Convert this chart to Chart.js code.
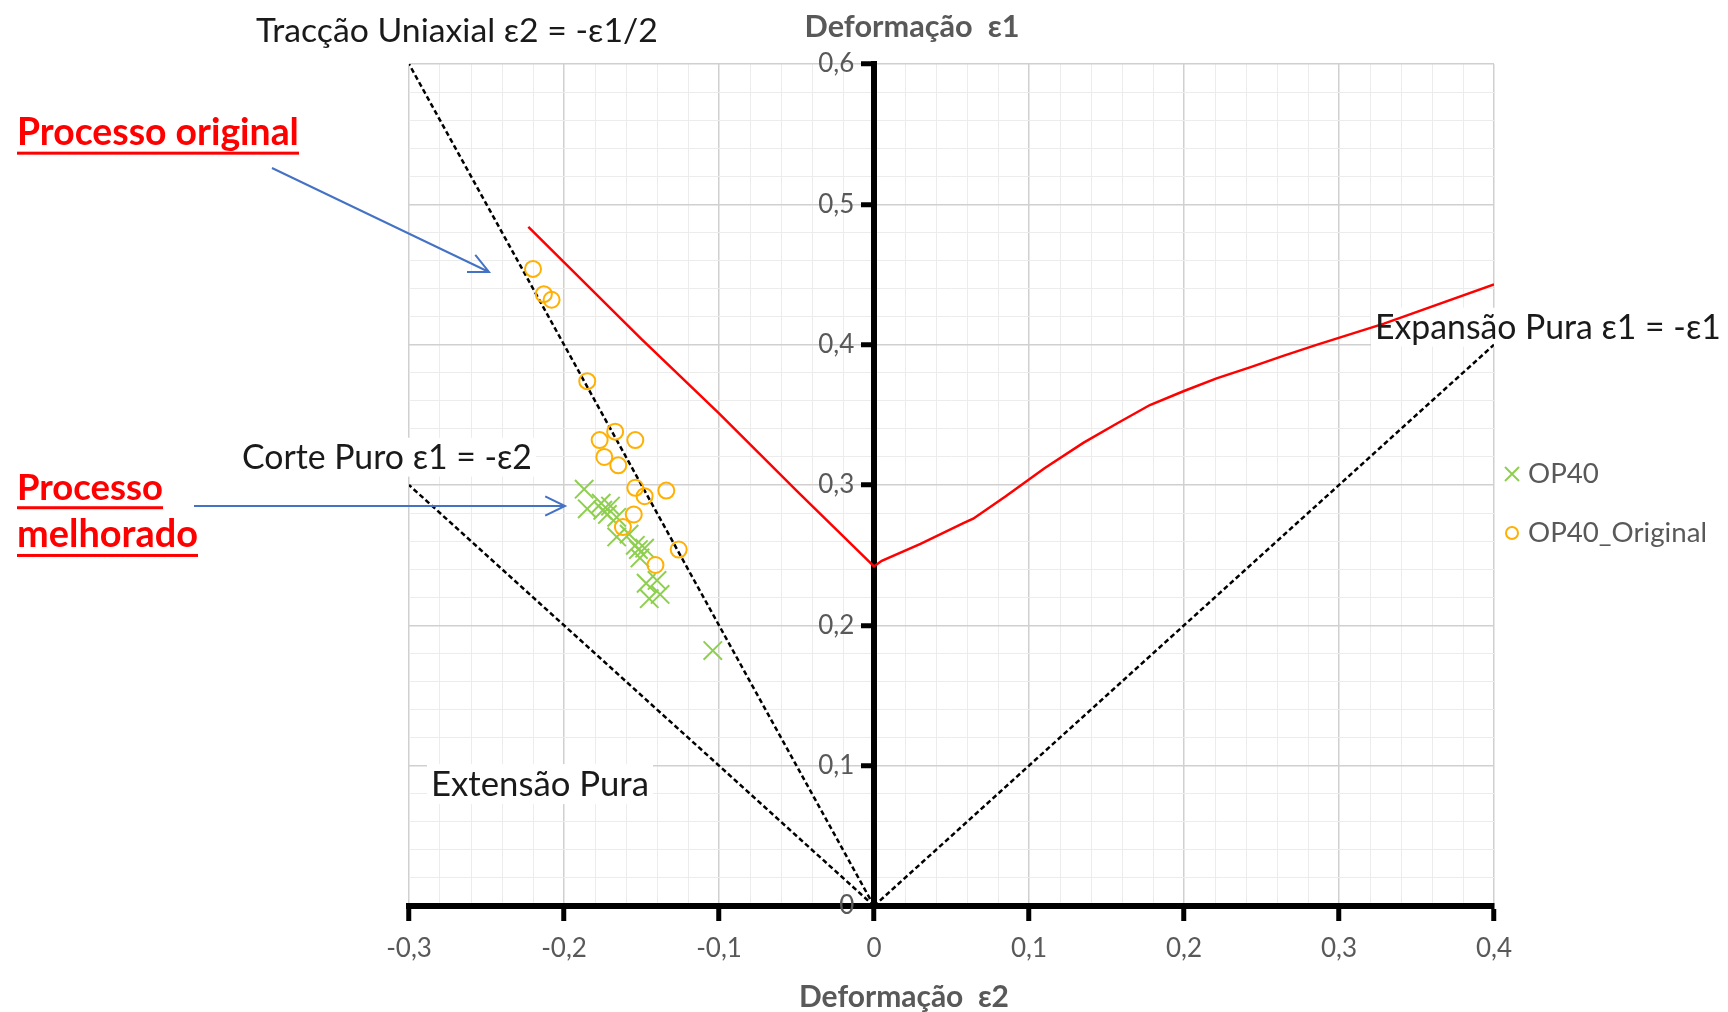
<!DOCTYPE html>
<html>
<head>
<meta charset="utf-8">
<script src="https://cdn.jsdelivr.net/npm/chart.js@4.4.1/dist/chart.umd.min.js"></script>
<style>
    html, body { margin: 0; padding: 0; background: #fff; }
</style>
</head>
<body>
<canvas id="flc_chart" width="1728" height="1012"></canvas>
<script>
//Dados

//OP40 (processo melhorado)
var op40_e2 = [-0.187, -0.185, -0.176, -0.175, -0.170, -0.172, -0.166, -0.158, -0.166, -0.154, -0.152, -0.148, -0.151, -0.147, -0.140, -0.145, -0.138, -0.104];
var op40_e1 = [0.297, 0.283, 0.287, 0.282, 0.285, 0.279, 0.277, 0.265, 0.263, 0.257, 0.254, 0.255, 0.248, 0.230, 0.232, 0.219, 0.222, 0.182];

//OP40_Original
var orig_e2 = [-0.220, -0.213, -0.208, -0.185, -0.167, -0.177, -0.154, -0.174, -0.165, -0.154, -0.148, -0.134, -0.155, -0.162, -0.126, -0.141];
var orig_e1 = [0.454, 0.436, 0.432, 0.374, 0.338, 0.332, 0.332, 0.320, 0.314, 0.298, 0.292, 0.296, 0.279, 0.270, 0.254, 0.243];

//Curva limite de conformação (vermelha)
var clc_e2 = [-0.223, -0.15, -0.1, -0.05, 0, 0.005, 0.03, 0.058, 0.064, 0.085, 0.11, 0.135, 0.157, 0.178, 0.2, 0.221, 0.243, 0.264, 0.286, 0.329, 0.4];
var clc_e1 = [0.484, 0.404, 0.351, 0.296, 0.242, 0.246, 0.258, 0.273, 0.276, 0.292, 0.312, 0.330, 0.344, 0.357, 0.367, 0.376, 0.384, 0.392, 0.400, 0.415, 0.443];

//Trajectórias de referência
var uniax_e2 = [0, -0.3];
var uniax_e1 = [0, 0.6];
var corte_e2 = [0, -0.3];
var corte_e1 = [0, 0.3];
var expan_e2 = [0, 0.4];
var expan_e1 = [0, 0.4];

//Eixos
var x_min = -0.3, x_max = 0.4;
var y_min = 0, y_max = 0.6;
var minor_step = 0.02;

var green = '#8fcf4f';
var orange = '#ffb000';
var fnt = 'Lato, "Open Sans", sans-serif';

function pts(xs, ys) {
    var out = [];
    for (var i = 0; i < xs.length; i++) out.push({x: xs[i], y: ys[i]});
    return out;
}

function is_major(v) {
    return Math.abs(v * 10 - Math.round(v * 10)) < 1e-6;
}

function fmt(v) {
    if (!is_major(v)) return '';
    return String(Math.round(v * 10) / 10).replace('.', ',');
}

//no eixo central o Chart.js cola o texto ao eixo, afasta com espaços
function fmt_y(v) {
    var s = fmt(v);
    return s === '' ? '' : s + '\u2002 ';
}

function grid_color(c) {
    var v = c.tick.value;
    if (Math.abs(v) < 1e-9) return 'rgba(0,0,0,0)';
    return is_major(v) ? '#d0d0d0' : '#ececec';
}

function tick_color(c) {
    return is_major(c.tick.value) ? '#000' : 'rgba(0,0,0,0)';
}

/* --------------------- Textos e anotações --------------------- */

var notas = [
    {txt: 'Tracção Uniaxial ε2 = -ε1/2', x: 256, y: 31, w: 402},
    {txt: 'Corte Puro ε1 = -ε2', x: 242, y: 458, w: 290},
    {txt: 'Extensão Pura', x: 431, y: 785, w: 218},
    {txt: 'Expansão Pura ε1 = -ε1', x: 1375, y: 328, w: 346}
];

var processos = [
    {txt: 'Processo original', x: 17, y: 133, w: 282},
    {txt: 'Processo', x: 17, y: 488, w: 146},
    {txt: 'melhorado', x: 17, y: 535, w: 181}
];

function fit_size(c, txt, weight, w) {
    c.font = weight + ' 40px ' + fnt;
    return 40 * w / c.measureText(txt).width;
}

function arrow(c, x1, y1, x2, y2) {
    var a = Math.atan2(y2 - y1, x2 - x1);
    var h = 22;
    c.save();
    c.strokeStyle = '#4472c4';
    c.lineWidth = 2;
    c.beginPath();
    c.moveTo(x1, y1);
    c.lineTo(x2, y2);
    c.moveTo(x2 - h * Math.cos(a - 0.45), y2 - h * Math.sin(a - 0.45));
    c.lineTo(x2, y2);
    c.lineTo(x2 - h * Math.cos(a + 0.45), y2 - h * Math.sin(a + 0.45));
    c.stroke();
    c.restore();
}

var textos = {
    id: 'textos',
    beforeDatasetsDraw: function (chart) {
        var c = chart.ctx;
        c.save();
        c.fillStyle = '#fff';
        notas.forEach(function (n) {
            var s = fit_size(c, n.txt, 'normal', n.w);
            c.fillRect(n.x - 4, n.y - s * 0.6, n.w + 8, s * 1.15);
        });
        c.restore();
    },
    afterDraw: function (chart) {
        var c = chart.ctx;
        var xs = chart.scales.x;
        var ys = chart.scales.y;
        c.save();
        c.textBaseline = 'middle';
        c.textAlign = 'left';

        notas.forEach(function (n) {
            var s = fit_size(c, n.txt, 'normal', n.w);
            c.font = 'normal ' + s + 'px ' + fnt;
            c.fillStyle = '#1a1a1a';
            c.fillText(n.txt, n.x, n.y);
        });

        processos.forEach(function (p) {
            var s = fit_size(c, p.txt, 'bold', p.w);
            c.font = 'bold ' + s + 'px ' + fnt;
            c.fillStyle = '#ff0000';
            c.fillText(p.txt, p.x, p.y);
            c.fillRect(p.x, p.y + s * 0.5, p.w, 3);
        });

        arrow(c, 272, 168, 489, 272);
        arrow(c, 194, 506, 565, 506);

        //Títulos dos eixos
        c.fillStyle = '#595959';
        c.textAlign = 'center';
        var t1 = 'Deformação  ε1';
        c.font = 'bold ' + fit_size(c, t1, 'bold', 215) + 'px ' + fnt;
        c.fillText(t1, xs.getPixelForValue(0) + 38, 27);
        var t2 = 'Deformação  ε2';
        c.font = 'bold ' + fit_size(c, t2, 'bold', 210) + 'px ' + fnt;
        c.fillText(t2, xs.getPixelForValue(0) + 30, 997);

        //Legenda
        var lx = xs.right + 18;
        var ly1 = ys.getPixelForValue(0.3) - 11;
        var ly2 = ly1 + 59;
        c.strokeStyle = green;
        c.lineWidth = 2;
        c.beginPath();
        c.moveTo(lx - 7, ly1 - 7); c.lineTo(lx + 7, ly1 + 7);
        c.moveTo(lx + 7, ly1 - 7); c.lineTo(lx - 7, ly1 + 7);
        c.stroke();
        c.strokeStyle = orange;
        c.beginPath();
        c.arc(lx, ly2, 6, 0, Math.PI * 2);
        c.stroke();
        c.textAlign = 'left';
        c.fillStyle = '#595959';
        c.font = 'normal ' + fit_size(c, 'OP40_Original', 'normal', 179) + 'px ' + fnt;
        c.fillText('OP40', lx + 16, ly1);
        c.fillText('OP40_Original', lx + 16, ly2);
        c.restore();
    }
};

/* --------------------- Gráfico --------------------- */

var ctx = document.getElementById('flc_chart').getContext('2d');
var chart = new Chart(ctx, {
    type: 'scatter',
    data: {
        datasets: [{
            label: 'OP40_Original',
            data: pts(orig_e2, orig_e1),
            pointStyle: 'circle',
            pointRadius: 8,
            borderColor: orange,
            backgroundColor: 'rgba(0,0,0,0)',
            borderWidth: 2,
            order: 0
        }, {
            label: 'OP40',
            data: pts(op40_e2, op40_e1),
            pointStyle: 'crossRot',
            pointRadius: 13,
            borderColor: green,
            backgroundColor: green,
            borderWidth: 2,
            order: 1
        }, {
            label: 'CLC',
            data: pts(clc_e2, clc_e1),
            showLine: true,
            pointRadius: 0,
            borderColor: '#ff0000',
            borderWidth: 2.5,
            order: 2
        }, {
            label: 'Tracção uniaxial',
            data: pts(uniax_e2, uniax_e1),
            showLine: true,
            pointRadius: 0,
            borderColor: '#000',
            borderWidth: 2.5,
            borderDash: [5, 3],
            order: 3
        }, {
            label: 'Corte puro',
            data: pts(corte_e2, corte_e1),
            showLine: true,
            pointRadius: 0,
            borderColor: '#000',
            borderWidth: 2.5,
            borderDash: [5, 3],
            order: 3
        }, {
            label: 'Expansão pura',
            data: pts(expan_e2, expan_e1),
            showLine: true,
            pointRadius: 0,
            borderColor: '#000',
            borderWidth: 2.5,
            borderDash: [5, 3],
            order: 3
        }]
    },
    options: {
        responsive: false,
        animation: false,
        layout: {
            padding: {left: 409, right: 234, top: 64, bottom: 106}
        },
        plugins: {
            legend: {display: false},
            tooltip: {enabled: false}
        },
        scales: {
            x: {
                type: 'linear',
                position: {y: 0},
                min: x_min,
                max: x_max,
                ticks: {
                    stepSize: minor_step,
                    autoSkip: false,
                    maxRotation: 0,
                    callback: fmt,
                    color: '#595959',
                    font: {family: fnt, size: 26},
                    padding: 15
                },
                grid: {
                    color: grid_color,
                    lineWidth: function (c) { return is_major(c.tick.value) ? 1.5 : 1; },
                    tickColor: tick_color,
                    tickWidth: 5,
                    tickLength: 12
                },
                border: {color: '#000', width: 6}
            },
            y: {
                type: 'linear',
                position: {x: 0},
                min: y_min,
                max: y_max,
                ticks: {
                    stepSize: minor_step,
                    autoSkip: false,
                    callback: fmt_y,
                    color: '#595959',
                    font: {family: fnt, size: 26},
                    padding: 6
                },
                grid: {
                    color: grid_color,
                    lineWidth: function (c) { return is_major(c.tick.value) ? 1.5 : 1; },
                    tickColor: tick_color,
                    tickWidth: 5,
                    tickLength: 10
                },
                border: {color: '#000', width: 6}
            }
        }
    },
    plugins: [textos]
});
</script>
</body>
</html>
